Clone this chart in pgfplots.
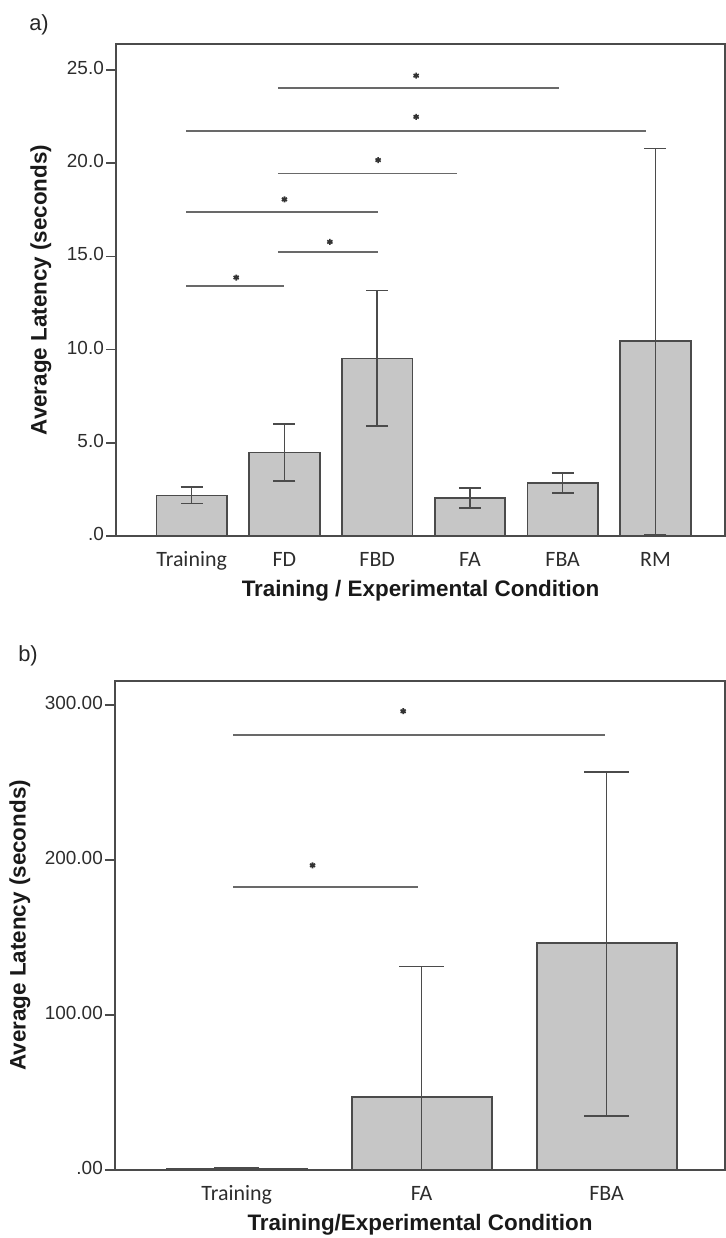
\documentclass[border=0pt]{standalone}
\usepackage{fontspec}
\setmainfont{Liberation Sans}
\newfontfamily\calfont{Carlito}
\usepackage{pgfplots}
\usepackage{pgfplotstable}
\pgfplotsset{compat=1.18}
\definecolor{barfill}{RGB}{198,198,198}
\definecolor{baredge}{RGB}{75,75,75}
\definecolor{sigline}{RGB}{105,105,105}
\definecolor{txt}{RGB}{45,45,45}

\pgfplotstableread{
x y ep em
0 2.17 0.46 0.43
1 4.48 1.52 1.53
2 9.52 3.65 3.62
3 2.04 0.54 0.55
4 2.85 0.53 0.54
5 10.45 10.35 10.36
}\dataA
\pgfplotstableread{
x y ep em
0 1.0 0.4 0.4
1 47.3 84.1 47.3
2 146.3 110.4 111.3
}\dataB

\pgfplotsset{
  spss/.style={
    scale only axis, clip=false,
    axis line style={draw=baredge, line width=1.8bp},
    tick align=outside, xtick pos=left, ytick pos=left,
    major tick length=10bp,
    ytick style={draw=baredge, line width=1.6bp},
    xtick style={draw=none},
    typeset ticklabels with strut,
    yticklabel style={font=\fontsize{19}{22}\selectfont, text=txt, inner sep=2bp},
    xticklabel style={font=\calfont\fontsize{22}{25}\selectfont, text=txt},
    label style={font=\bfseries\fontsize{22.5}{26}\selectfont, text=black!90},
    ymin=0,
  },
  sig/.style={draw=sigline, line width=1.9bp, no markers, forget plot},
  star/.style={only marks, mark=asterisk, mark size=3bp, mark options={draw=black!80, line width=1.7bp}, forget plot},
}

\begin{document}
\begin{tikzpicture}
\useasboundingbox (0bp,0bp) rectangle (726bp,1238bp);
\node[font=\fontsize{22}{26}\selectfont, text=black!85] at (39bp,1213bp) {a)};
\node[font=\fontsize{22}{26}\selectfont, text=black!85] at (28bp,582bp) {b)};

% ---------------- panel a ----------------
\begin{axis}[spss,
  at={(116bp,702bp)}, anchor=south west,
  width=609bp, height=492bp,
  xmin=-0.816, xmax=5.75, ymax=26.4,
  xtick={0,1,2,3,4,5},
  xticklabels={Training,FD,FBD,FA,FBA,RM},
  ytick={0,5,10,15,20,25},
  yticklabels={.0,5.0,10.0,15.0,20.0,25.0},
  xlabel={Training / Experimental Condition},
  ylabel={Average Latency (seconds)},
  xlabel style={at={(rel axis cs:0.5,0)}, anchor=center, yshift=-55bp},
  ylabel style={at={(rel axis cs:0,0.5)}, anchor=center, yshift=75bp},
]
\addplot[ybar, bar width=70.5bp, bar shift=0pt, fill=barfill, draw=baredge, line width=1.8bp,
  error bars/.cd, y dir=both, y explicit,
  error bar style={draw=baredge, line width=1.6bp},
  error mark options={rotate=90, mark size=11bp, draw=baredge, line width=1.6bp}]
  table[x=x, y=y, y error plus=ep, y error minus=em] {\dataA};
\addplot[sig] coordinates {(0.93,24.05) (3.96,24.05)};
\addplot[sig] coordinates {(-0.06,21.72) (4.90,21.72)};
\addplot[sig] coordinates {(0.93,19.45) (2.86,19.45)};
\addplot[sig] coordinates {(-0.06,17.38) (2.01,17.38)};
\addplot[sig] coordinates {(0.93,15.25) (2.01,15.25)};
\addplot[sig] coordinates {(-0.06,13.40) (1.00,13.40)};
\addplot[star] coordinates {(2.42,24.70) (2.42,22.49) (2.01,20.17) (1.00,18.06) (1.49,15.78) (0.48,13.87)};
\end{axis}

% ---------------- panel b ----------------
\begin{axis}[spss,
  at={(115bp,68bp)}, anchor=south west,
  width=610bp, height=489.3bp,
  xmin=-0.658, xmax=2.64, ymax=315.7,
  xtick={0,1,2},
  xticklabels={Training,FA,FBA},
  ytick={0,100,200,300},
  yticklabels={.00,100.00,200.00,300.00},
  xlabel={Training/Experimental Condition},
  ylabel={Average Latency (seconds)},
  xlabel style={at={(rel axis cs:0.5,0)}, anchor=center, yshift=-55bp},
  ylabel style={at={(rel axis cs:0,0.5)}, anchor=center, yshift=95bp},
]
\addplot[ybar, bar width=140bp, bar shift=0pt, fill=barfill, draw=baredge, line width=1.8bp,
  error bars/.cd, y dir=both, y explicit,
  error bar style={draw=baredge, line width=1.6bp},
  error mark options={rotate=90, mark size=22.5bp, draw=baredge, line width=1.6bp}]
  table[x=x, y=y, y error plus=ep, y error minus=em] {\dataB};
\addplot[sig] coordinates {(-0.02,280.6) (1.99,280.6)};
\addplot[sig] coordinates {(-0.02,182.6) (0.98,182.6)};
\addplot[star] coordinates {(0.90,296.0) (0.41,196.6)};
\end{axis}
\end{tikzpicture}
\end{document}
